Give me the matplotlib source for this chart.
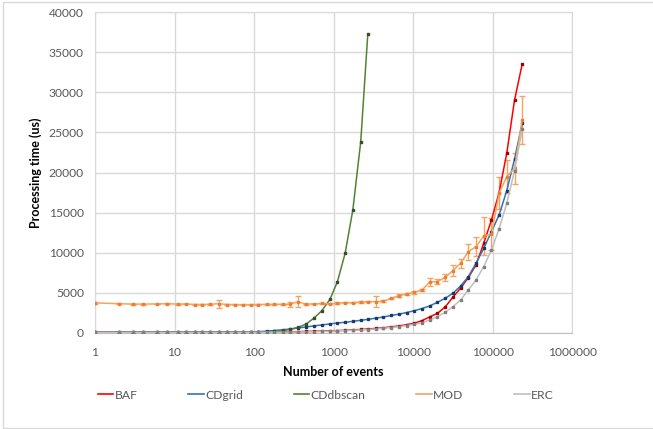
import matplotlib.pyplot as plt
from matplotlib.lines import Line2D
from matplotlib.patches import Rectangle
from matplotlib.ticker import FixedLocator, NullLocator

plt.rcParams['font.family'] = ['Lato', 'DejaVu Sans']

# Número de eventos (eixo x, escala log)
eventos = [1, 2, 3, 4, 6, 8, 11, 14, 18, 22, 28, 36, 46, 58, 73, 91, 113, 144, 180, 230,
           286, 356, 447, 563, 708, 903, 1120, 1400, 1750, 2200, 2700, 3400, 4250, 5300,
           6650, 8300, 10400, 13000, 16200, 20300, 25400, 31700, 39700, 49600, 62000,
           77500, 97000, 121000, 151000, 189000, 236000]

baf = [120, 120, 120, 120, 120, 120, 120, 120, 120, 120, 120, 120, 120, 120, 120, 120,
       125, 125, 130, 140, 150, 170, 190, 210, 240, 270, 300, 340, 390, 440, 500, 570,
       650, 760, 880, 1030, 1220, 1550, 2000, 2450, 3250, 4450, 5600, 6900, 8480, 11180,
       14090, 17500, 22400, 29000, 33500]

cdgrid = [100, 100, 100, 100, 100, 100, 100, 100, 100, 100, 100, 100, 100, 100, 100, 130,
          170, 230, 310, 400, 500, 620, 750, 880, 1000, 1130, 1250, 1330, 1450, 1580, 1700,
          1850, 2000, 2180, 2350, 2550, 2780, 3050, 3370, 3830, 4320, 4950, 5860, 7020,
          8690, 10560, 12630, 14710, 17740, 21660, 26150]

cddbscan = [60, 60, 60, 60, 60, 60, 60, 60, 60, 60, 60, 60, 60, 60, 60, 70, 100, 130,
            190, 290, 450, 700, 1080, 1830, 2740, 4200, 6400, 9940, 15340, 23850, 37280]

mod = [3750, 3650, 3600, 3600, 3620, 3650, 3600, 3620, 3550, 3550, 3580, 3650, 3550,
       3530, 3520, 3520, 3550, 3570, 3580, 3580, 3580, 3900, 3600, 3620, 3680, 3650,
       3700, 3780, 3780, 3850, 3900, 3900, 3950, 4320, 4650, 4860, 5070, 5360, 6350,
       6400, 6940, 7770, 8690, 10140, 10760, 12100, 12300, 17400, 19500, 20500, 26500]
mod_err = [80, 50, 50, 50, 50, 60, 50, 50, 50, 50, 50, 500, 50, 50, 50, 50, 50, 50, 50,
           50, 300, 700, 50, 50, 50, 50, 100, 100, 100, 100, 100, 700, 100, 100, 150, 150,
           150, 150, 450, 350, 400, 650, 580, 1000, 1200, 2400, 2000, 2000, 2000, 1900, 3000]

erc = [80, 80, 80, 80, 80, 80, 80, 80, 80, 80, 80, 80, 80, 80, 80, 80, 85, 90, 95, 100,
       110, 125, 140, 160, 190, 220, 260, 300, 340, 380, 430, 500, 580, 680, 790, 920,
       1080, 1280, 1620, 2030, 2580, 3280, 4110, 5360, 6610, 8270, 10350, 13000, 16170,
       20240, 25400]

series = [
    ('BAF', baf, None, '#ff0000', '#a00000'),
    ('CDgrid', cdgrid, None, '#2e75b6', '#1f3864'),
    ('CDdbscan', cddbscan, None, '#548235', '#3a4a30'),
    ('MOD', mod, mod_err, '#f4a460', '#ed7d31'),
    ('ERC', erc, None, '#bfbfbf', '#808080'),
]

fig = plt.figure(figsize=(6.53, 4.29), dpi=100)
ax = fig.add_axes([0.1455, 0.2238, 0.7305, 0.7482])

# Borda externa do gráfico
fig.patches.append(Rectangle((0.005, 0.003), 1.2, 0.992, transform=fig.transFigure,
                             fill=False, edgecolor='#d9d9d9', linewidth=1))

handles = []
for nome, y, err, cor, cor_marc in series:
    x = eventos[:len(y)]
    ax.errorbar(x, y, yerr=err, color=cor, linewidth=1.1, marker='s', markersize=1.6,
                markerfacecolor=cor_marc, markeredgecolor=cor_marc,
                ecolor=cor_marc if err is None else cor, elinewidth=1, capsize=2,
                zorder=3)
    handles.append(Line2D([], [], color=cor, linewidth=1.2, label=nome))

ax.set_xscale('log')
ax.set_xlim(1, 1000000)
ax.set_ylim(0, 40000)
ticks_x = [1, 10, 100, 1000, 10000, 100000, 1000000]
ax.xaxis.set_major_locator(FixedLocator(ticks_x))
ax.xaxis.set_minor_locator(NullLocator())
ax.set_xticklabels([str(t) for t in ticks_x])
ax.set_yticks(range(0, 40001, 5000))

ax.grid(True, color='#d9d9d9', linewidth=1)
ax.set_axisbelow(True)
for s in ax.spines.values():
    s.set_color('#d9d9d9')
ax.spines['bottom'].set_color('#bfbfbf')
ax.tick_params(length=0, labelsize=8.7, labelcolor='#595959')
ax.tick_params(axis='x', pad=10)
ax.tick_params(axis='y', pad=8)

ax.set_xlabel('Number of events', fontsize=9, fontweight='bold', labelpad=6)
ax.set_ylabel('Processing time (us)', fontsize=9, fontweight='bold', labelpad=5)

fig.legend(handles=handles, loc='center', bbox_to_anchor=(0.499, 0.079), ncol=5,
           frameon=False, fontsize=8.7, handlelength=1.3, handletextpad=0.1,
           columnspacing=4.2, labelcolor='#595959')

fig.savefig('out.png', dpi=100)
